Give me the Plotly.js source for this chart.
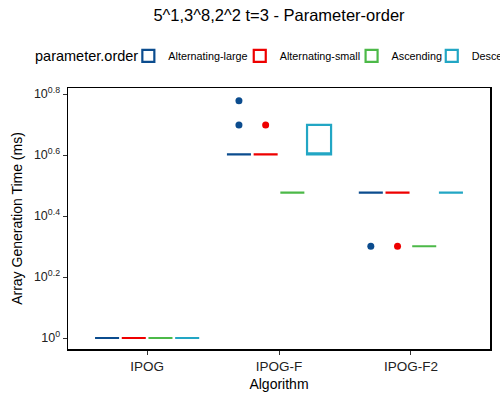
<!DOCTYPE html>
<html>
<head>
<meta charset="utf-8">
<script src="https://cdn.plot.ly/plotly-3.0.1.min.js"></script>
<style>body{margin:0;background:#fff}</style>
</head>
<body>
<div id="chart" style="width:500px;height:400px"></div>
<script>
// samples per algorithm for each parameter order (ms)
var algorithms = ['IPOG', 'IPOG-F', 'IPOG-F2'];
var orders = ['Alternating-large', 'Alternating-small', 'Ascending', 'Descending'];
var colors = ['#0B4C8E', '#EE0000', '#4CB948', '#22A6C4'];

var altLargeIPOG = [1, 1, 1, 1, 1, 1, 1, 1, 1, 1];
var altLargeIPOGF = [4, 4, 4, 4, 4, 4, 4, 4, 5, 6];
var altLargeIPOGF2 = [3, 3, 3, 3, 3, 3, 3, 3, 3, 2];

var altSmallIPOG = [1, 1, 1, 1, 1, 1, 1, 1, 1, 1];
var altSmallIPOGF = [4, 4, 4, 4, 4, 4, 4, 4, 4, 5];
var altSmallIPOGF2 = [3, 3, 3, 3, 3, 3, 3, 3, 3, 2];

var ascIPOG = [1, 1, 1, 1, 1, 1, 1, 1, 1, 1];
var ascIPOGF = [3, 3, 3, 3, 3, 3, 3, 3, 3, 3];
var ascIPOGF2 = [2, 2, 2, 2, 2, 2, 2, 2, 2, 2];

var descIPOG = [1, 1, 1, 1, 1, 1, 1, 1, 1, 1];
var descIPOGF = [4, 4, 4, 4, 4, 4, 5, 5, 5, 5];
var descIPOGF2 = [3, 3, 3, 3, 3, 3, 3, 3, 3, 3];

var tickExps = [0, 0.2, 0.4, 0.6, 0.8];
var tickLabels = ['10<sup>0</sup>', '10<sup>0.2</sup>', '10<sup>0.4</sup>', '10<sup>0.6</sup>', '10<sup>0.8</sup>'];

var samples = [
  [altLargeIPOG, altLargeIPOGF, altLargeIPOGF2],
  [altSmallIPOG, altSmallIPOGF, altSmallIPOGF2],
  [ascIPOG, ascIPOGF, ascIPOGF2],
  [descIPOG, descIPOGF, descIPOGF2]
];

// one small legend per series so the entries sit like the ggplot legend row
var legendIds = ['legend', 'legend2', 'legend3', 'legend4'];
var legendX = [0.143, 0.407, 0.672, 0.862];

var traces = orders.map(function(name, i) {
  var x = [], y = [];
  samples[i].forEach(function(vals, j) {
    vals.forEach(function(v) { x.push(algorithms[j]); y.push(v); });
  });
  return {
    type: 'box', name: name, x: x, y: y, legend: legendIds[i],
    boxpoints: 'outliers',
    fillcolor: 'rgba(255,255,255,0)',
    line: {color: colors[i], width: 2.2},
    marker: {color: colors[i], size: 7, outliercolor: colors[i], line: {width: 0}},
    whiskerwidth: 0
  };
});

var font = 'Liberation Sans, Arial, sans-serif';
var layout = {
  width: 500, height: 400,
  margin: {l: 68, r: 10, t: 88, b: 51, autoexpand: false},
  paper_bgcolor: '#fff', plot_bgcolor: '#fff',
  font: {family: font, color: '#000'},
  title: {text: '5^1,3^8,2^2 t=3 - Parameter-order', font: {size: 16.5, color: '#000'},
          x: 0.5, xref: 'paper', xanchor: 'center', y: 0.962, yanchor: 'middle'},
  boxmode: 'group', boxgap: 0.19, boxgroupgap: 0.1,
  showlegend: true,
  annotations: [{
    text: 'parameter.order', xref: 'paper', yref: 'paper', x: -0.083, y: 1.123,
    xanchor: 'left', yanchor: 'middle', showarrow: false, font: {size: 14.5, color: '#000'}
  }],
  xaxis: {
    type: 'category', range: [-0.6, 2.6],
    showline: true, mirror: true, linecolor: '#000', linewidth: 1.5,
    ticks: 'outside', ticklen: 4, tickcolor: '#333', showgrid: false, zeroline: false,
    tickfont: {size: 13.5, color: '#222'},
    title: {text: 'Algorithm', font: {size: 14}, standoff: 6}
  },
  yaxis: {
    type: 'log', range: [-0.036, 0.82],
    tickvals: tickExps.map(function(e) { return Math.pow(10, e); }),
    ticktext: tickLabels,
    showline: true, mirror: true, linecolor: '#000', linewidth: 1.5,
    ticks: 'outside', ticklen: 4, tickcolor: '#333', showgrid: false, zeroline: false,
    tickfont: {size: 12.5, color: '#222'},
    title: {text: 'Array Generation Time (ms)', font: {size: 14}, standoff: 8}
  }
};

legendIds.forEach(function(id, i) {
  layout[id] = {
    orientation: 'h', x: legendX[i], xanchor: 'left', y: 1.123, yanchor: 'middle',
    font: {size: 10.8}, bgcolor: 'rgba(0,0,0,0)', borderwidth: 0
  };
});

Plotly.newPlot('chart', traces, layout, {displayModeBar: false, staticPlot: true});
</script>
</body>
</html>
